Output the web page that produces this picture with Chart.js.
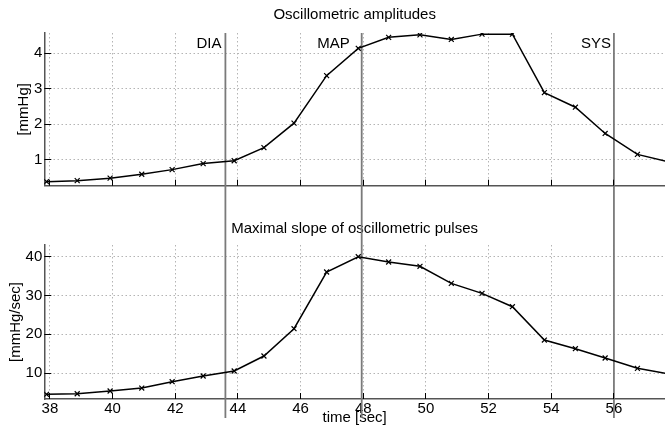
<!DOCTYPE html>
<html>
<head>
<meta charset="utf-8">
<script src="https://cdn.jsdelivr.net/npm/chart.js@4.4.0/dist/chart.umd.min.js"></script>
<style>
  body { margin: 0; background: #fff; }
  #wrap { position: relative; width: 665px; height: 434px; }
  #ampChart { position: absolute; left: 0; top: 0; }
  #slopeChart { position: absolute; left: 0; top: 200px; }
</style>
</head>
<body>
<div id="wrap">
  <canvas id="ampChart" width="665" height="200"></canvas>
  <canvas id="slopeChart" width="665" height="234"></canvas>
</div>
<script>
// pulse times [sec]
const times = [37.89, 38.87, 39.92, 40.93, 41.90, 42.89, 43.88, 44.83, 45.79, 46.83,
  47.84, 48.81, 49.81, 50.81, 51.79, 52.76, 53.78, 54.77, 55.72, 56.75, 57.74];
// oscillometric amplitude per pulse [mmHg]
const amplitudes = [0.38, 0.41, 0.48, 0.59, 0.72, 0.89, 0.97, 1.34, 2.03, 3.37,
  4.14, 4.45, 4.52, 4.39, 4.54, 4.54, 2.89, 2.48, 1.74, 1.15, 0.94];
// maximal slope per pulse [mmHg/sec]
const slopes = [4.51, 4.66, 5.36, 6.13, 7.76, 9.23, 10.52, 14.39, 21.43, 36.05,
  40.0, 38.63, 37.52, 33.13, 30.55, 27.1, 18.51, 16.27, 13.87, 11.21, 9.77];

const timeTicks = [38, 40, 42, 44, 46, 48, 50, 52, 54, 56];
const ampTicks = [1, 2, 3, 4];
const slopeTicks = [10, 20, 30, 40];

// DIA / MAP / SYS estimates [sec]
const phaseNames = ["DIA", "MAP", "SYS"];
const phaseTimes = [43.6, 47.95, 56.0];

Chart.defaults.font.family = "'Liberation Sans', Arial, Helvetica, sans-serif";
Chart.defaults.font.size = 15;
Chart.defaults.color = "#000";

const align = (v) => Math.round(v - 0.5) + 0.5;

// matlab-like inward tick marks on both axes
const innerTicks = {
  id: "innerTicks",
  afterDraw(chart) {
    const { ctx, chartArea: a, scales: { x, y } } = chart;
    ctx.save();
    ctx.strokeStyle = "#000";
    ctx.lineWidth = 1;
    ctx.beginPath();
    x.ticks.forEach(t => {
      const px = align(x.getPixelForValue(t.value));
      ctx.moveTo(px, a.bottom);
      ctx.lineTo(px, a.bottom - 6);
    });
    y.ticks.forEach(t => {
      const py = align(y.getPixelForValue(t.value));
      ctx.moveTo(a.left, py);
      ctx.lineTo(a.left + 7, py);
    });
    ctx.stroke();
    ctx.restore();
  }
};

// vertical lines at the DIA / MAP / SYS times
const phaseLines = {
  id: "phaseLines",
  beforeDatasetsDraw(chart, args, opts) {
    const { ctx, chartArea: a, scales: { x } } = chart;
    const y0 = opts.fromCanvasTop ? 0 : a.top;
    const y1 = a.bottom + opts.below;
    ctx.save();
    ctx.strokeStyle = "#7a7a7a";
    ctx.lineWidth = 1.8;
    phaseTimes.forEach((t, i) => {
      const px = x.getPixelForValue(t);
      ctx.beginPath();
      ctx.moveTo(px, y0);
      ctx.lineTo(px, y1);
      ctx.stroke();
      if (opts.labels) {
        ctx.fillStyle = "#000";
        ctx.font = "15px 'Liberation Sans', Arial, sans-serif";
        ctx.textAlign = "right";
        ctx.textBaseline = "middle";
        ctx.fillText(phaseNames[i], px - opts.labelGap[i], opts.labelY);
      }
    });
    ctx.restore();
  }
};

function timeAxis(showLabels, height) {
  return {
    type: "linear",
    min: 37.82,
    max: 57.63,
    afterBuildTicks: s => { s.ticks = timeTicks.map(v => ({ value: v })); },
    afterFit: s => { s.height = height; },
    grid: { color: "#b4b4b4", lineWidth: 1, drawTicks: false },
    border: { color: "#555", width: 1.5, dash: [1.5, 2.5] },
    ticks: { display: showLabels, padding: 1, font: { size: 15 } },
    title: {
      display: showLabels,
      text: "time [sec]",
      font: { size: 15 },
      padding: { top: 0, bottom: 7 }
    }
  };
}

function valueAxis(min, max, tickValues, label, titlePad) {
  return {
    type: "linear",
    min: min,
    max: max,
    afterBuildTicks: s => { s.ticks = tickValues.map(v => ({ value: v })); },
    afterFit: s => { s.width = 44.3; },
    grid: { color: "#b4b4b4", lineWidth: 1, drawTicks: false },
    border: { color: "#555", width: 1.5, dash: [1.5, 2.5] },
    ticks: { padding: 2, font: { size: 15 } },
    title: {
      display: true,
      text: label,
      font: { size: 15 },
      padding: { top: titlePad, bottom: 0 }
    }
  };
}

function series(values) {
  return {
    data: times.map((t, i) => ({ x: t, y: values[i] })),
    borderColor: "#000",
    backgroundColor: "#000",
    borderWidth: 1.5,
    pointStyle: "crossRot",
    pointRadius: 3.5,
    pointBorderWidth: 1.2,
    tension: 0
  };
}

function titleOpts(text, top, bottom) {
  return {
    display: true,
    text: text,
    fullSize: false,
    color: "#000",
    font: { size: 15, weight: "normal" },
    padding: { top: top, bottom: bottom }
  };
}

new Chart(document.getElementById("ampChart"), {
  type: "line",
  data: { datasets: [series(amplitudes)] },
  options: {
    responsive: false,
    animation: false,
    events: [],
    layout: { padding: 0, autoPadding: false },
    scales: {
      x: timeAxis(false, 14.3),
      y: valueAxis(0.267, 4.572, ampTicks, "[mmHg]", 15.2)
    },
    plugins: {
      legend: { display: false },
      tooltip: { enabled: false },
      title: titleOpts("Oscillometric amplitudes", 6, 9),
      phaseLines: { fromCanvasTop: false, below: 15, labels: true, labelGap: [4, 12, 3], labelY: 44 }
    }
  },
  plugins: [innerTicks, phaseLines]
});

new Chart(document.getElementById("slopeChart"), {
  type: "line",
  data: { datasets: [series(slopes)] },
  options: {
    responsive: false,
    animation: false,
    events: [],
    layout: { padding: 0, autoPadding: false },
    scales: {
      x: timeAxis(true, 35),
      y: valueAxis(3.3, 43.02, slopeTicks, "[mmHg/sec]", 6.8)
    },
    plugins: {
      legend: { display: false },
      tooltip: { enabled: false },
      title: titleOpts("Maximal slope of oscillometric pulses", 20, 7),
      phaseLines: { fromCanvasTop: true, below: 19, labels: false }
    }
  },
  plugins: [innerTicks, phaseLines]
});
</script>
</body>
</html>
